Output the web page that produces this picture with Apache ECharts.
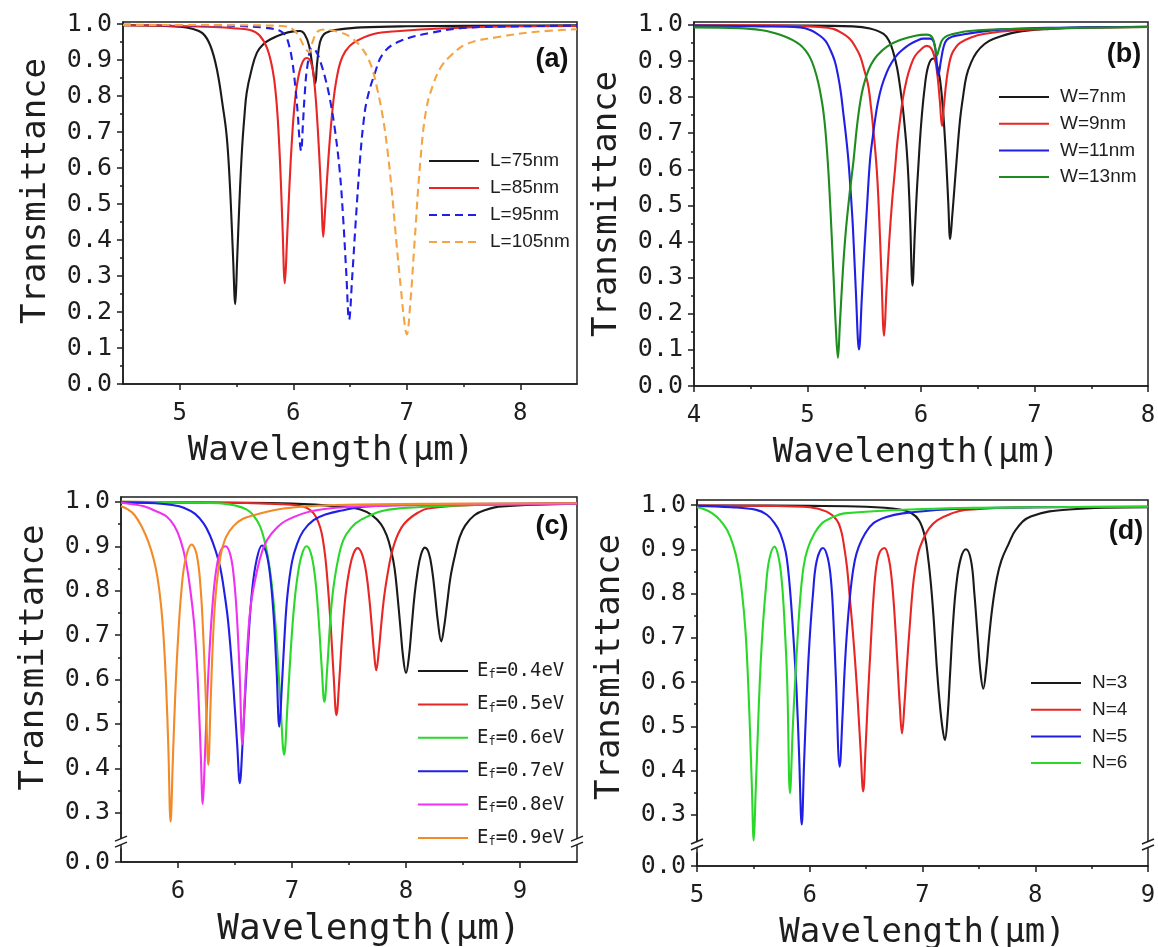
<!DOCTYPE html>
<html><head><meta charset="utf-8">
<script src="https://cdn.jsdelivr.net/npm/echarts@6/dist/echarts.min.js"></script>
<style>html,body{margin:0;padding:0;background:#fff}#c{width:1158px;height:947px}</style>
</head><body><div id="c"></div>
<script>
// ---------- tick values ----------
const xTickA = [5, 6, 7, 8], xMinorA = [5.5, 6.5, 7.5];
const xTickB = [4, 5, 6, 7, 8], xMinorB = [4.5, 5.5, 6.5, 7.5];
const xTickC = [6, 7, 8, 9], xMinorC = [6.5, 7.5, 8.5];
const xTickD = [5, 6, 7, 8, 9], xMinorD = [5.5, 6.5, 7.5, 8.5];
const yTickAB = [0, 0.1, 0.2, 0.3, 0.4, 0.5, 0.6, 0.7, 0.8, 0.9, 1.0];
const yMinorAB = [0.05, 0.15, 0.25, 0.35, 0.45, 0.55, 0.65, 0.75, 0.85, 0.95];
const yTickCD = [0, 0.3, 0.4, 0.5, 0.6, 0.7, 0.8, 0.9, 1.0];
const yMinorCD = [0.35, 0.45, 0.55, 0.65, 0.75, 0.85, 0.95];

// ---------- series names ----------
const namesA = ['L=75nm', 'L=85nm', 'L=95nm', 'L=105nm'];
const namesB = ['W=7nm', 'W=9nm', 'W=11nm', 'W=13nm'];
const namesC = ['E_f=0.4eV', 'E_f=0.5eV', 'E_f=0.6eV', 'E_f=0.7eV', 'E_f=0.8eV', 'E_f=0.9eV'];
const namesD = ['N=3', 'N=4', 'N=5', 'N=6'];

// ---------- panel (a) ----------
const a_L75 = [[4.5,0.997],[4.8,0.996],[5.0,0.993],[5.1,0.988],[5.2,0.975],[5.27,0.94],[5.33,0.87],[5.38,0.77],[5.41,0.70],[5.43,0.62],[5.45,0.50],[5.47,0.35],[5.489,0.222],[5.505,0.34],[5.525,0.50],[5.548,0.649],[5.57,0.745],[5.59,0.81],[5.63,0.87],[5.68,0.921],[5.74,0.945],[5.80,0.958],[5.90,0.972],[6.00,0.980],[6.06,0.981],[6.10,0.972],[6.14,0.94],[6.17,0.88],[6.194,0.836],[6.21,0.89],[6.235,0.95],[6.27,0.972],[6.32,0.980],[6.40,0.985],[6.60,0.991],[7.0,0.994],[8.0,0.996],[8.5,0.997]];
const a_L85 = [[4.5,0.997],[5.0,0.995],[5.3,0.992],[5.5,0.988],[5.62,0.984],[5.70,0.970],[5.77,0.933],[5.82,0.87],[5.845,0.81],[5.865,0.73],[5.886,0.60],[5.905,0.44],[5.926,0.280],[5.945,0.40],[5.965,0.54],[5.985,0.66],[6.01,0.77],[6.04,0.845],[6.08,0.893],[6.12,0.906],[6.16,0.89],[6.185,0.84],[6.21,0.74],[6.235,0.60],[6.25,0.50],[6.264,0.409],[6.28,0.48],[6.30,0.58],[6.325,0.69],[6.355,0.79],[6.38,0.845],[6.414,0.893],[6.46,0.925],[6.53,0.948],[6.70,0.972],[6.94,0.981],[7.3,0.988],[8.0,0.994],[8.5,0.995]];
const a_L95 = [[4.5,0.998],[5.0,0.997],[5.5,0.995],[5.75,0.99],[5.886,0.981],[5.93,0.968],[5.96,0.945],[5.99,0.90],[6.018,0.827],[6.04,0.75],[6.055,0.68],[6.069,0.648],[6.085,0.72],[6.10,0.80],[6.125,0.885],[6.165,0.934],[6.20,0.925],[6.24,0.895],[6.29,0.84],[6.33,0.78],[6.37,0.70],[6.41,0.59],[6.44,0.46],[6.467,0.31],[6.492,0.179],[6.52,0.30],[6.55,0.45],[6.59,0.63],[6.62,0.73],[6.65,0.79],[6.71,0.855],[6.796,0.92],[6.943,0.953],[7.23,0.977],[7.53,0.99],[8.0,0.994],[8.5,0.996]];
const a_L105 = [[4.5,0.998],[5.5,0.997],[5.9,0.995],[6.0,0.985],[6.06,0.96],[6.10,0.935],[6.14,0.922],[6.17,0.95],[6.21,0.978],[6.28,0.985],[6.40,0.978],[6.50,0.965],[6.60,0.935],[6.68,0.89],[6.74,0.82],[6.79,0.74],[6.83,0.65],[6.87,0.53],[6.91,0.39],[6.95,0.26],[6.98,0.17],[7.00,0.138],[7.03,0.22],[7.07,0.40],[7.12,0.62],[7.17,0.76],[7.23,0.83],[7.30,0.88],[7.38,0.91],[7.53,0.945],[7.82,0.965],[8.12,0.978],[8.5,0.986]];

// ---------- panel (b) ----------
const b_W7 = [[4.0,0.998],[5.0,0.998],[5.4,0.996],[5.55,0.99],[5.67,0.975],[5.72,0.955],[5.756,0.924],[5.79,0.88],[5.815,0.83],[5.84,0.77],[5.859,0.71],[5.875,0.65],[5.89,0.57],[5.905,0.45],[5.925,0.278],[5.945,0.42],[5.96,0.52],[5.975,0.60],[6.00,0.72],[6.03,0.82],[6.064,0.886],[6.108,0.907],[6.14,0.89],[6.167,0.849],[6.19,0.78],[6.21,0.69],[6.226,0.60],[6.24,0.51],[6.257,0.407],[6.275,0.47],[6.295,0.55],[6.315,0.63],[6.344,0.737],[6.37,0.80],[6.40,0.858],[6.44,0.895],[6.49,0.924],[6.56,0.947],[6.636,0.961],[6.84,0.98],[7.137,0.989],[7.5,0.993],[8.0,0.995]];
const b_W9 = [[4.0,0.999],[4.8,0.998],[5.1,0.994],[5.228,0.989],[5.30,0.978],[5.374,0.961],[5.42,0.94],[5.463,0.914],[5.50,0.875],[5.536,0.83],[5.56,0.77],[5.58,0.71],[5.61,0.60],[5.63,0.48],[5.65,0.32],[5.675,0.139],[5.695,0.26],[5.72,0.40],[5.745,0.51],[5.771,0.60],[5.79,0.67],[5.815,0.737],[5.84,0.795],[5.874,0.849],[5.91,0.887],[5.947,0.914],[6.00,0.932],[6.05,0.942],[6.09,0.935],[6.12,0.91],[6.145,0.86],[6.167,0.785],[6.185,0.72],[6.20,0.77],[6.226,0.85],[6.25,0.895],[6.27,0.918],[6.30,0.935],[6.344,0.95],[6.44,0.965],[6.55,0.975],[6.84,0.985],[7.3,0.991],[8.0,0.994]];
const b_W11 = [[4.0,0.998],[4.6,0.996],[4.934,0.993],[5.03,0.985],[5.11,0.97],[5.16,0.955],[5.198,0.933],[5.24,0.90],[5.27,0.858],[5.295,0.81],[5.315,0.757],[5.34,0.69],[5.36,0.626],[5.38,0.54],[5.40,0.44],[5.425,0.27],[5.454,0.101],[5.478,0.24],[5.50,0.37],[5.525,0.50],[5.551,0.626],[5.575,0.69],[5.595,0.737],[5.62,0.785],[5.654,0.83],[5.70,0.87],[5.742,0.896],[5.79,0.917],[5.844,0.933],[5.90,0.946],[5.962,0.956],[6.02,0.962],[6.08,0.962],[6.12,0.945],[6.153,0.86],[6.175,0.90],[6.20,0.94],[6.226,0.958],[6.28,0.968],[6.344,0.972],[6.5,0.98],[6.696,0.987],[7.2,0.992],[8.0,0.995]];
const b_W13 = [[4.0,0.993],[4.4,0.991],[4.6,0.985],[4.7,0.978],[4.8,0.968],[4.87,0.958],[4.934,0.945],[4.98,0.93],[5.022,0.91],[5.06,0.88],[5.095,0.84],[5.12,0.80],[5.14,0.76],[5.16,0.70],[5.183,0.60],[5.205,0.47],[5.23,0.30],[5.25,0.16],[5.268,0.078],[5.285,0.17],[5.31,0.31],[5.335,0.42],[5.37,0.53],[5.404,0.62],[5.44,0.73],[5.478,0.81],[5.52,0.86],[5.56,0.89],[5.61,0.914],[5.70,0.94],[5.815,0.958],[5.95,0.97],[6.05,0.973],[6.10,0.965],[6.125,0.935],[6.14,0.915],[6.16,0.935],[6.196,0.962],[6.28,0.975],[6.5,0.985],[7.0,0.99],[8.0,0.994]];

// ---------- panel (c) ----------
const c_E04 = [[5.5,0.999],[6.5,0.998],[7.0,0.996],[7.4,0.99],[7.6,0.983],[7.70,0.97],[7.78,0.95],[7.83,0.925],[7.87,0.89],[7.90,0.85],[7.925,0.79],[7.95,0.72],[7.975,0.65],[8.00,0.615],[8.025,0.65],[8.05,0.72],[8.075,0.79],[8.10,0.84],[8.13,0.88],[8.165,0.897],[8.20,0.885],[8.23,0.845],[8.255,0.79],[8.28,0.73],[8.309,0.686],[8.335,0.72],[8.36,0.77],[8.39,0.83],[8.43,0.88],[8.47,0.92],[8.52,0.947],[8.60,0.97],[8.70,0.982],[8.84,0.99],[9.5,0.996]];
const c_E05 = [[5.5,1.0],[6.5,0.998],[6.9,0.995],[7.05,0.992],[7.133,0.986],[7.19,0.974],[7.23,0.955],[7.26,0.93],[7.29,0.88],[7.315,0.81],[7.34,0.72],[7.365,0.61],[7.39,0.52],[7.415,0.60],[7.44,0.70],[7.47,0.79],[7.505,0.85],[7.54,0.884],[7.576,0.896],[7.61,0.885],[7.645,0.85],[7.675,0.79],[7.70,0.72],[7.72,0.66],[7.739,0.621],[7.76,0.66],[7.785,0.73],[7.81,0.79],[7.84,0.84],[7.87,0.88],[7.91,0.915],[7.96,0.942],[8.015,0.959],[8.10,0.975],[8.192,0.985],[8.6,0.993],[9.5,0.996]];
const c_E06 = [[5.5,1.0],[6.2,0.998],[6.4,0.996],[6.5,0.992],[6.6,0.983],[6.66,0.97],[6.72,0.945],[6.77,0.90],[6.81,0.84],[6.84,0.77],[6.87,0.67],[6.90,0.54],[6.931,0.431],[6.96,0.54],[6.99,0.67],[7.02,0.77],[7.05,0.835],[7.085,0.88],[7.126,0.90],[7.165,0.885],[7.20,0.835],[7.23,0.75],[7.26,0.63],[7.284,0.55],[7.31,0.63],[7.335,0.73],[7.36,0.80],[7.40,0.865],[7.45,0.914],[7.52,0.942],[7.60,0.959],[7.80,0.98],[8.1,0.988],[8.6,0.993],[9.5,0.996]];
const c_E07 = [[5.5,0.999],[5.8,0.997],[5.95,0.993],[6.05,0.987],[6.15,0.973],[6.226,0.951],[6.28,0.925],[6.33,0.89],[6.372,0.85],[6.41,0.79],[6.44,0.73],[6.47,0.64],[6.50,0.53],[6.52,0.45],[6.542,0.367],[6.565,0.45],[6.59,0.57],[6.62,0.70],[6.65,0.80],[6.69,0.87],[6.737,0.902],[6.775,0.885],[6.81,0.83],[6.84,0.74],[6.865,0.62],[6.889,0.494],[6.91,0.58],[6.935,0.70],[6.96,0.79],[7.0,0.865],[7.044,0.905],[7.10,0.935],[7.189,0.959],[7.30,0.972],[7.423,0.98],[7.657,0.99],[8.5,0.995],[9.5,0.996]];
const c_E08 = [[5.5,0.998],[5.6,0.995],[5.7,0.99],[5.8,0.98],[5.905,0.966],[5.97,0.945],[6.022,0.914],[6.07,0.865],[6.109,0.80],[6.14,0.73],[6.165,0.64],[6.185,0.53],[6.20,0.43],[6.217,0.32],[6.235,0.42],[6.255,0.55],[6.28,0.68],[6.31,0.79],[6.34,0.855],[6.375,0.89],[6.418,0.90],[6.46,0.88],[6.49,0.83],[6.515,0.75],[6.54,0.62],[6.565,0.455],[6.585,0.56],[6.61,0.68],[6.64,0.77],[6.694,0.846],[6.74,0.89],[6.781,0.914],[6.86,0.94],[6.956,0.959],[7.189,0.98],[7.6,0.99],[8.5,0.994],[9.5,0.996]];
const c_E09 = [[5.5,0.99],[5.56,0.983],[5.62,0.97],[5.68,0.945],[5.74,0.91],[5.788,0.87],[5.82,0.83],[5.85,0.77],[5.875,0.69],[5.895,0.59],[5.915,0.45],[5.935,0.28],[5.955,0.42],[5.975,0.56],[6.00,0.69],[6.03,0.80],[6.065,0.87],[6.12,0.904],[6.165,0.88],[6.20,0.80],[6.225,0.68],[6.245,0.55],[6.266,0.408],[6.285,0.54],[6.305,0.68],[6.33,0.79],[6.372,0.876],[6.42,0.92],[6.488,0.946],[6.57,0.962],[6.664,0.97],[6.927,0.985],[7.4,0.993],[8.5,0.996],[9.5,0.997]];

// ---------- panel (d) ----------
const d_N3 = [[5.0,0.999],[6.0,0.998],[6.5,0.996],[6.8,0.99],[6.9,0.982],[6.97,0.965],[7.02,0.93],[7.05,0.88],[7.075,0.82],[7.10,0.74],[7.125,0.64],[7.15,0.56],[7.175,0.50],[7.198,0.469],[7.222,0.52],[7.245,0.62],[7.27,0.73],[7.30,0.82],[7.34,0.88],[7.386,0.90],[7.43,0.875],[7.46,0.80],[7.49,0.70],[7.515,0.62],[7.539,0.585],[7.565,0.63],[7.59,0.70],[7.62,0.77],[7.66,0.835],[7.70,0.875],[7.76,0.91],[7.83,0.945],[7.96,0.974],[8.3,0.99],[9.0,0.995]];
const d_N4 = [[5.0,0.999],[5.6,0.998],[6.0,0.995],[6.15,0.985],[6.24,0.966],[6.28,0.94],[6.305,0.906],[6.33,0.86],[6.354,0.794],[6.38,0.72],[6.403,0.644],[6.425,0.56],[6.45,0.45],[6.474,0.353],[6.495,0.45],[6.515,0.56],[6.54,0.68],[6.565,0.79],[6.59,0.86],[6.62,0.893],[6.662,0.903],[6.70,0.88],[6.727,0.832],[6.75,0.76],[6.776,0.65],[6.798,0.55],[6.818,0.484],[6.84,0.55],[6.86,0.63],[6.885,0.72],[6.922,0.832],[6.96,0.89],[7.003,0.921],[7.06,0.948],[7.133,0.966],[7.25,0.98],[7.377,0.989],[8.0,0.995],[9.0,0.996]];
const d_N5 = [[5.0,0.998],[5.3,0.995],[5.526,0.989],[5.62,0.978],[5.688,0.959],[5.74,0.935],[5.786,0.895],[5.81,0.85],[5.834,0.78],[5.858,0.69],[5.883,0.58],[5.905,0.44],[5.929,0.278],[5.95,0.42],[5.97,0.55],[5.995,0.68],[6.029,0.80],[6.062,0.874],[6.117,0.903],[6.16,0.88],[6.19,0.825],[6.21,0.74],[6.23,0.62],[6.266,0.409],[6.29,0.52],[6.31,0.63],[6.335,0.73],[6.37,0.825],[6.40,0.875],[6.435,0.906],[6.49,0.935],[6.565,0.959],[6.68,0.973],[6.825,0.981],[7.21,0.99],[8.0,0.995],[9.0,0.996]];
const d_N6 = [[5.0,0.995],[5.07,0.99],[5.136,0.981],[5.2,0.967],[5.266,0.944],[5.32,0.91],[5.364,0.865],[5.40,0.80],[5.429,0.719],[5.45,0.62],[5.47,0.49],[5.487,0.36],[5.503,0.242],[5.52,0.35],[5.54,0.49],[5.558,0.607],[5.58,0.71],[5.61,0.81],[5.64,0.876],[5.688,0.906],[5.725,0.88],[5.753,0.825],[5.775,0.74],[5.80,0.60],[5.825,0.349],[5.85,0.50],[5.87,0.60],[5.89,0.69],[5.916,0.79],[5.945,0.86],[5.98,0.90],[6.04,0.935],[6.11,0.959],[6.2,0.972],[6.305,0.981],[6.89,0.99],[8.0,0.995],[9.0,0.996]];

// ---------- styling ----------
const MONO = '"DejaVu Sans Mono","Liberation Mono",monospace';
const SANS = '"Liberation Sans",Arial,sans-serif';
const INK = '#1e1e1e';
const K = '#1a1a1a', R = '#e82626', B = '#1f1fe6', OA = '#f3a445', GB = '#1e8c1e', G = '#2ad82a', M = '#f032f0', OC = '#f28a28';

const panels = [
  { grid:{left:123,top:22,width:454,height:362}, xr:[4.5,8.5], yr:[0,1.006], brk:null,
    xT:xTickA, xM:xMinorA, yT:yTickAB, yM:yMinorAB, xPad:[0,38,0,0], yPad:[0,0,0,24], xSize:34,
    series:[[namesA[0],a_L75,K,'solid'],[namesA[1],a_L85,R,'solid'],[namesA[2],a_L95,B,[8,5]],[namesA[3],a_L105,OA,[8,5]]],
    legend:{left:428,top:151,gap:7,names:namesA}, label:['(a)',552,60] },
  { grid:{left:694,top:22,width:454,height:364}, xr:[4,8], yr:[0,1.008], brk:null,
    xT:xTickB, xM:xMinorB, yT:yTickAB, yM:yMinorAB, xPad:[0,10,0,0], yPad:[0,0,0,0], xSize:34,
    series:[[namesB[0],b_W7,K,'solid'],[namesB[1],b_W9,R,'solid'],[namesB[2],b_W11,B,'solid'],[namesB[3],b_W13,GB,'solid']],
    legend:{left:998,top:87,gap:6.7,names:namesB}, label:['(b)',1124,55] },
  { grid:{left:121,top:497,width:456,height:365}, xr:[5.5,9.5], yr:[0,1.011], brk:{start:0.03,end:0.24,gap:'2.5%'},
    xT:xTickC, xM:xMinorC, yT:yTickCD, yM:yMinorCD, xPad:[0,0,0,40], yPad:[0,0,0,44], xSize:36,
    series:[[namesC[0],c_E04,K,'solid'],[namesC[1],c_E05,R,'solid'],[namesC[2],c_E06,G,'solid'],[namesC[3],c_E07,B,'solid'],[namesC[4],c_E08,M,'solid'],[namesC[5],c_E09,OC,'solid']],
    legend:{left:417,top:660,gap:12.4,names:namesC,sub:true}, label:['(c)',552,527] },
  { grid:{left:697,top:500,width:451,height:366}, xr:[5,9], yr:[0,1.0113], brk:{start:0.03,end:0.24,gap:'3.1%'},
    xT:xTickD, xM:xMinorD, yT:yTickCD, yM:yMinorCD, xPad:[0,0,0,0], yPad:[0,0,0,32], xSize:34,
    series:[[namesD[0],d_N3,K,'solid'],[namesD[1],d_N4,R,'solid'],[namesD[2],d_N5,B,'solid'],[namesD[3],d_N6,G,'solid']],
    legend:{left:1030,top:673,gap:6.7,names:namesD}, label:['(d)',1126,532] }
];

const grids = [], xAxes = [], yAxes = [], series = [], legends = [];
const lineSt = {color: INK, width: 1.5};
panels.forEach((p, i) => {
  grids.push(Object.assign({show:true, borderColor:INK, borderWidth:1.5, backgroundColor:'transparent',
    containLabel:false, outerBoundsMode:'none'}, p.grid));
  xAxes.push({gridIndex:i, type:'value', min:p.xr[0], max:p.xr[1], position:'bottom',
    axisLine:{show:true, onZero:false, lineStyle:lineSt},
    axisTick:{show:true, customValues:p.xT, length:6, lineStyle:lineSt},
    axisLabel:{show:true, customValues:p.xT, margin:18, fontFamily:MONO, fontSize:24, color:INK, formatter:v=>String(v)},
    splitLine:{show:false}, minorTick:{show:false},
    name:'Wavelength(μm)', nameLocation:'middle', nameGap:50,
    nameTextStyle:{fontFamily:MONO, fontSize:p.xSize, color:INK, padding:p.xPad}});
  xAxes.push({gridIndex:i, type:'value', min:p.xr[0], max:p.xr[1], position:'bottom',
    axisLine:{show:false}, axisTick:{show:true, customValues:p.xM, length:3, lineStyle:lineSt},
    axisLabel:{show:false}, splitLine:{show:false}});
  const yb = {gridIndex:i, type:'value', min:p.yr[0], max:p.yr[1], position:'left'};
  if (p.brk) {
    yb.breaks = [p.brk];
    yb.breakArea = {show:false, itemStyle:{color:'rgba(0,0,0,0)', borderColor:'rgba(0,0,0,0)', opacity:0}};
  }
  yAxes.push(Object.assign({}, yb, {
    axisLine:{show:true, onZero:false, lineStyle:lineSt},
    axisTick:{show:true, customValues:p.yT, length:6, lineStyle:lineSt},
    axisLabel:{show:true, customValues:p.yT, margin:11, fontFamily:MONO, fontSize:25, color:INK, formatter:v=>v.toFixed(1)},
    splitLine:{show:false},
    name:'Transmittance', nameLocation:'middle', nameGap:70,
    nameTextStyle:{fontFamily:MONO, fontSize:34, color:INK, padding:p.yPad}}));
  yAxes.push(Object.assign({}, yb, {
    axisLine:{show:false}, axisTick:{show:true, customValues:p.yM, length:3, lineStyle:lineSt},
    axisLabel:{show:false}, splitLine:{show:false}}));
  p.series.forEach(s => {
    series.push({type:'line', name:s[0], data:s[1], xAxisIndex:2*i, yAxisIndex:2*i,
      symbol:'none', showSymbol:false, smooth:0.4, clip:true, animation:false,
      lineStyle:{color:s[2], width:2.1, type:s[3]}, itemStyle:{color:s[2]}});
  });
  const lg = {orient:'vertical', left:p.legend.left, top:p.legend.top, itemWidth:50, itemHeight:14,
    itemGap:p.legend.gap, data:p.legend.names, selectedMode:false, padding:0,
    itemStyle:{opacity:0, borderWidth:0},
    textStyle:{fontFamily:SANS, fontSize:19, color:INK, lineHeight:20, padding:[0,0,0,6]}};
  if (p.legend.sub) {
    lg.formatter = n => '{e|E}{s|f}{e|' + n.slice(3) + '}';
    lg.textStyle = {fontFamily:MONO, fontSize:19, color:INK, lineHeight:20, padding:[0,0,0,4],
      rich:{e:{fontFamily:MONO, fontSize:19, color:INK, lineHeight:20},
            s:{fontFamily:MONO, fontSize:12, color:INK, lineHeight:20, verticalAlign:'bottom', padding:[9,0,0,0]}}};
  }
  legends.push(lg);
});

const chart = echarts.init(document.getElementById('c'), null, {renderer:'canvas'});
chart.setOption({animation:false, backgroundColor:'#fff', grid:grids, xAxis:xAxes, yAxis:yAxes, legend:legends, series:series});

// panel letters and axis-break marks
const gfx = [];
panels.forEach((p, i) => {
  gfx.push({type:'text', z:100, style:{text:p.label[0], x:p.label[1], y:p.label[2],
    font:'bold 27px "Liberation Sans", Arial, sans-serif', fill:'#111', align:'center', verticalAlign:'middle',
    textAlign:'center', textVerticalAlign:'middle'}});
  if (p.brk) {
    const f = {xAxisIndex:2*i, yAxisIndex:2*i};
    const pe = chart.convertToPixel(f, [p.xr[0], p.brk.end]);
    const ps = chart.convertToPixel(f, [p.xr[0], p.brk.start]);
    const ym = (pe[1] + ps[1]) / 2 - 2;
    [p.grid.left, p.grid.left + p.grid.width].forEach(X => {
      gfx.push({type:'rect', z:100, shape:{x:X-3, y:ym-3, width:6, height:6}, style:{fill:'#fff'}});
      gfx.push({type:'line', z:101, shape:{x1:X-6, y1:ym-1, x2:X+6, y2:ym-6}, style:{stroke:INK, lineWidth:1.5}});
      gfx.push({type:'line', z:101, shape:{x1:X-6, y1:ym+5, x2:X+6, y2:ym}, style:{stroke:INK, lineWidth:1.5}});
    });
  }
});
chart.setOption({graphic:gfx});
</script></body></html>
